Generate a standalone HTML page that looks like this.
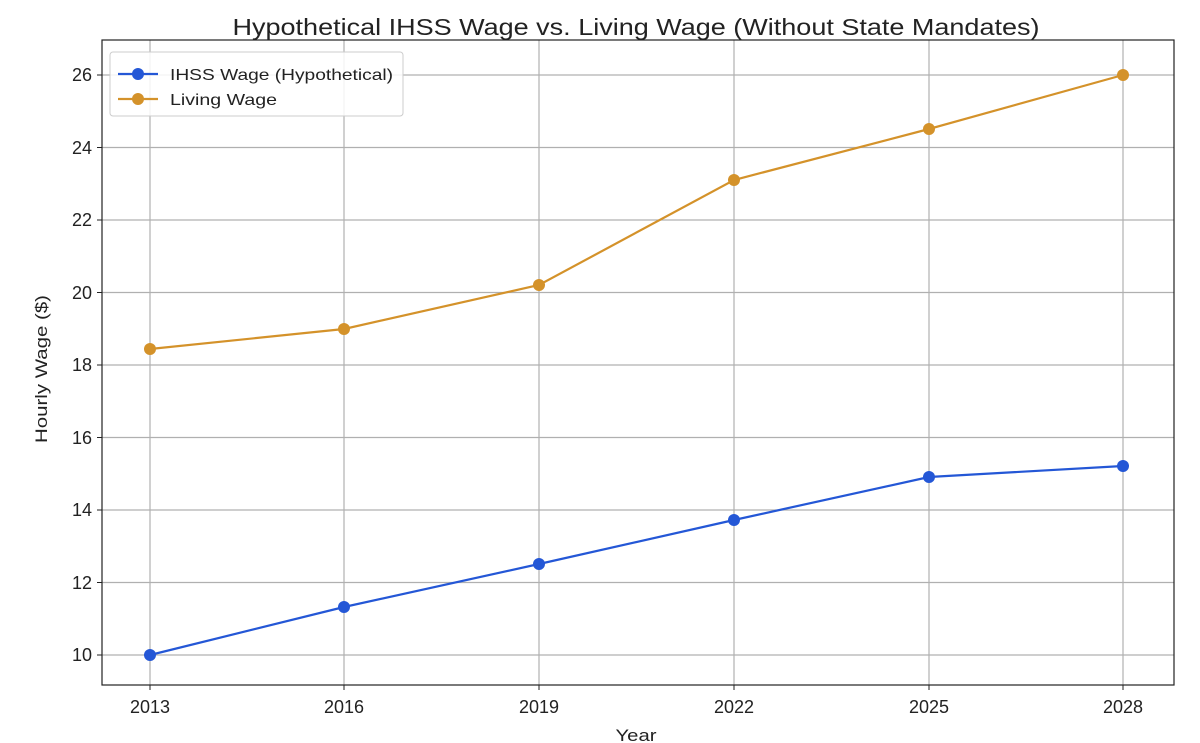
<!DOCTYPE html>
<html><head><meta charset="utf-8"><style>
html,body{margin:0;padding:0;background:#fff;}
svg{display:block;font-family:"Liberation Sans",sans-serif;}
</style></head><body>
<svg width="1200" height="743" viewBox="0 0 1200 743" xmlns="http://www.w3.org/2000/svg">
<rect width="1200" height="743" fill="#fff"/>
<text x="636" y="35" font-size="23" text-anchor="middle" fill="#222" textLength="807" lengthAdjust="spacingAndGlyphs">Hypothetical IHSS Wage vs. Living Wage (Without State Mandates)</text>
<g stroke="#b0b0b0" stroke-width="1.2">
<line x1="150" y1="40" x2="150" y2="685"/><line x1="344" y1="40" x2="344" y2="685"/>
<line x1="539" y1="40" x2="539" y2="685"/><line x1="734" y1="40" x2="734" y2="685"/>
<line x1="929" y1="40" x2="929" y2="685"/><line x1="1123" y1="40" x2="1123" y2="685"/>
<line x1="102" y1="655" x2="1174" y2="655"/><line x1="102" y1="582.5" x2="1174" y2="582.5"/>
<line x1="102" y1="510" x2="1174" y2="510"/><line x1="102" y1="437.5" x2="1174" y2="437.5"/>
<line x1="102" y1="365" x2="1174" y2="365"/><line x1="102" y1="292.5" x2="1174" y2="292.5"/>
<line x1="102" y1="220" x2="1174" y2="220"/><line x1="102" y1="147.5" x2="1174" y2="147.5"/>
<line x1="102" y1="75" x2="1174" y2="75"/>
</g>
<rect x="102" y="40" width="1072" height="645" fill="none" stroke="#222" stroke-width="1.2"/>
<g stroke="#222" stroke-width="1">
<line x1="150" y1="685" x2="150" y2="690"/><line x1="344" y1="685" x2="344" y2="690"/>
<line x1="539" y1="685" x2="539" y2="690"/><line x1="734" y1="685" x2="734" y2="690"/>
<line x1="929" y1="685" x2="929" y2="690"/><line x1="1123" y1="685" x2="1123" y2="690"/>
<line x1="97" y1="655" x2="102" y2="655"/><line x1="97" y1="582.5" x2="102" y2="582.5"/>
<line x1="97" y1="510" x2="102" y2="510"/><line x1="97" y1="437.5" x2="102" y2="437.5"/>
<line x1="97" y1="365" x2="102" y2="365"/><line x1="97" y1="292.5" x2="102" y2="292.5"/>
<line x1="97" y1="220" x2="102" y2="220"/><line x1="97" y1="147.5" x2="102" y2="147.5"/>
<line x1="97" y1="75" x2="102" y2="75"/>
</g>
<g font-size="18" fill="#222" text-anchor="middle">
<text x="150" y="713">2013</text><text x="344" y="713">2016</text><text x="539" y="713">2019</text>
<text x="734" y="713">2022</text><text x="929" y="713">2025</text><text x="1123" y="713">2028</text>
</g>
<g font-size="18" fill="#222" text-anchor="end">
<text x="92" y="661">10</text><text x="92" y="589">12</text><text x="92" y="516">14</text>
<text x="92" y="444">16</text><text x="92" y="371">18</text><text x="92" y="299">20</text>
<text x="92" y="226">22</text><text x="92" y="154">24</text><text x="92" y="81">26</text>
</g>
<text x="636" y="741" font-size="17" fill="#222" text-anchor="middle" textLength="41" lengthAdjust="spacingAndGlyphs">Year</text>
<text transform="translate(47,369) rotate(-90)" font-size="17" fill="#222" text-anchor="middle" textLength="148" lengthAdjust="spacingAndGlyphs">Hourly Wage ($)</text>
<polyline points="150,655 344,607 539,564 734,520 929,477 1123,466" fill="none" stroke="#2457d6" stroke-width="2.2"/>
<g fill="#2457d6"><circle cx="150" cy="655" r="6"/><circle cx="344" cy="607" r="6"/><circle cx="539" cy="564" r="6"/><circle cx="734" cy="520" r="6"/><circle cx="929" cy="477" r="6"/><circle cx="1123" cy="466" r="6"/></g>
<polyline points="150,349 344,329 539,285 734,180 929,129 1123,75" fill="none" stroke="#d4922a" stroke-width="2.2"/>
<g fill="#d4922a"><circle cx="150" cy="349" r="6"/><circle cx="344" cy="329" r="6"/><circle cx="539" cy="285" r="6"/><circle cx="734" cy="180" r="6"/><circle cx="929" cy="129" r="6"/><circle cx="1123" cy="75" r="6"/></g>
<rect x="110" y="52" width="293" height="64" rx="3" fill="#fff" fill-opacity="0.85" stroke="#ccc"/>
<line x1="118" y1="74" x2="158" y2="74" stroke="#2457d6" stroke-width="2.2"/><circle cx="138" cy="74" r="6" fill="#2457d6"/>
<text x="170" y="80" font-size="16" fill="#222" textLength="223" lengthAdjust="spacingAndGlyphs">IHSS Wage (Hypothetical)</text>
<line x1="118" y1="99" x2="158" y2="99" stroke="#d4922a" stroke-width="2.2"/><circle cx="138" cy="99" r="6" fill="#d4922a"/>
<text x="170" y="105" font-size="16" fill="#222" textLength="107" lengthAdjust="spacingAndGlyphs">Living Wage</text>
</svg>
</body></html>
